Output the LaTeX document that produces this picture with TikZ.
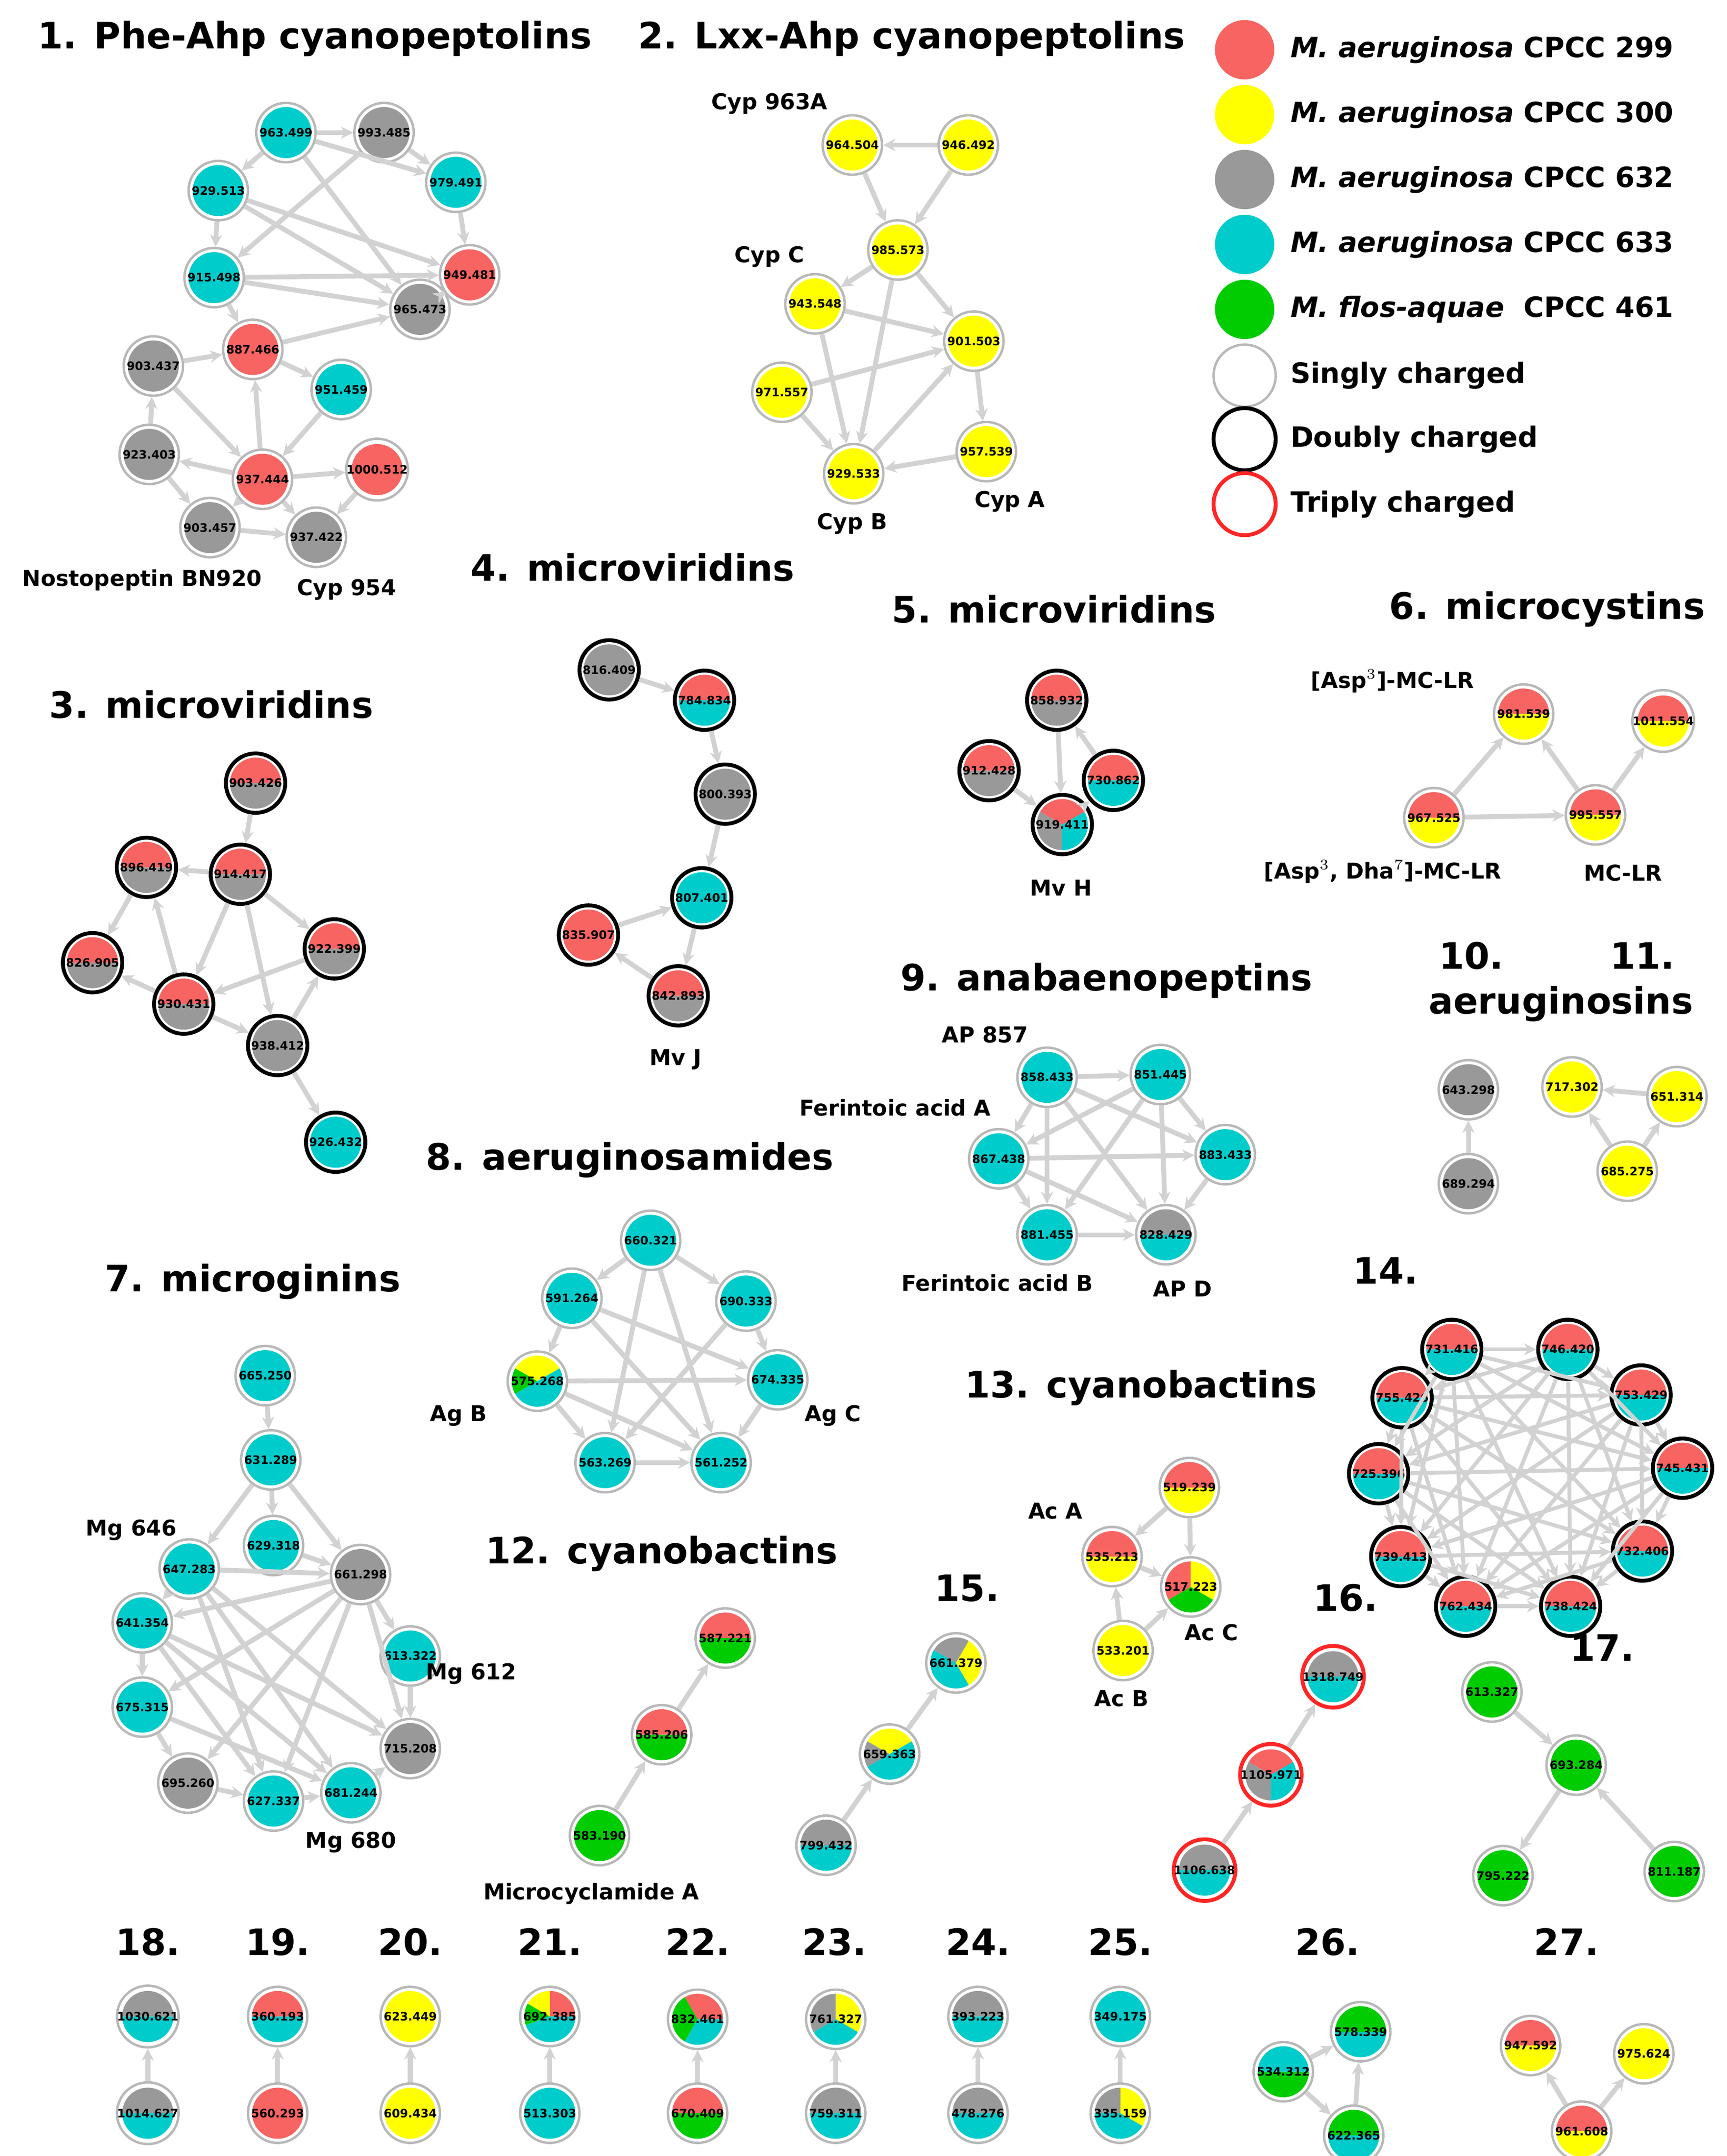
\documentclass[tikz,border=0pt]{standalone}
\usepackage{fontspec}
\setmainfont{DejaVu Sans}
\usetikzlibrary{arrows.meta}
\definecolor{pr}{HTML}{F86461}
\definecolor{py}{HTML}{FFFF00}
\definecolor{pg}{HTML}{999999}
\definecolor{pc}{HTML}{00CCCC}
\definecolor{pn}{HTML}{00CC00}
\newcommand{\nfont}{\bfseries\fontsize{4.8}{5}\selectfont}
% pie filled molecule node: [border] name, position, mass, segments
\newcommand{\mnode}[5][sg]{%
  \foreach \cc/\aa/\bb in {#5}{\fill[\cc] (#3) -- ++(\aa:0.37cm) arc[start angle=\aa,end angle=\bb,radius=0.37cm] -- cycle;}
  \node[mol,#1] (#2) at (#3) {#4};}
\begin{document}
\begin{tikzpicture}[x=0.02cm,y=-0.02cm,
  mol/.style={circle,minimum size=0.86cm,inner sep=0pt,font=\nfont},
  sg/.style={draw=pg!70,line width=1pt},
  db/.style={draw=black,line width=1.6pt},
  tr/.style={draw=red!85,line width=1.6pt},
  lnk/.style={draw=gray!35,line width=2pt,-{Stealth[length=5pt,width=5pt]}},
  ttl/.style={font=\bfseries\fontsize{15}{18}\selectfont},
  lbl/.style={font=\bfseries\fontsize{9}{11}\selectfont},
  leg/.style={anchor=west,font=\bfseries\fontsize{11.5}{14}\selectfont},
  ]
  \useasboundingbox (0,0) rectangle (1250,1561);
  %Titles
  \node[ttl] at (228,28) {1. Phe-Ahp cyanopeptolins};
  \node[ttl] at (660,28) {2. Lxx-Ahp cyanopeptolins};
  \node[ttl] at (458,411) {4. microviridins};
  \node[ttl] at (763,441) {5. microviridins};
  \node[ttl] at (1120,441) {6. microcystins};
  \node[ttl] at (153,510) {3. microviridins};
  \node[ttl] at (801,710) {9. anabaenopeptins};
  \node[ttl] at (1065,692) {10.};
  \node[ttl] at (1189,692) {11.};
  \node[ttl] at (1130,727) {aeruginosins};
  \node[ttl] at (456,840) {8. aeruginosamides};
  \node[ttl] at (183,928) {7. microginins};
  \node[ttl] at (1003,920) {14.};
  \node[ttl] at (826,1005) {13. cyanobactins};
  \node[ttl] at (479,1125) {12. cyanobactins};
  \node[ttl] at (700,1150) {15.};
  \node[ttl] at (974,1157) {16.};
  \node[ttl] at (1160,1193) {17.};
  \foreach \t/\x in {18/107,19/201,20/297,21/398,22/505,23/604,24/708,25/811,26/961,27/1134}
    \node[ttl] at (\x,1406) {\t.};
  %Legend
  \foreach \c/\y/\t in {pr/36/{\textit{M. aeruginosa} CPCC 299},py/83/{\textit{M. aeruginosa} CPCC 300},
    pg/130/{\textit{M. aeruginosa} CPCC 632},pc/177/{\textit{M. aeruginosa} CPCC 633},pn/224/{\textit{M. flos-aquae}\ \ CPCC 461}}{
    \fill[\c] (901,\y) circle[radius=0.43cm];
    \node[leg] at (928,\y) {\t};}
  \node[mol,sg,minimum size=0.9cm] (lsg) at (901,272) {};
  \node[mol,db,minimum size=0.9cm] (ldb) at (901,318) {};
  \node[mol,tr,minimum size=0.9cm] (ltr) at (901,365) {};
  \node[leg] at (928,272) {Singly charged};
  \node[leg] at (928,318) {Doubly charged};
  \node[leg] at (928,365) {Triply charged};
  %Cluster 1
  \mnode{a1}{207,96}{963.499}{pc/0/360}
  \mnode{a2}{278,96}{993.485}{pg/0/360}
  \mnode{a3}{330,132}{979.491}{pc/0/360}
  \mnode{a4}{340,199}{949.481}{pr/0/360}
  \mnode{a5}{304,224}{965.473}{pg/0/360}
  \mnode{a6}{158,138}{929.513}{pc/0/360}
  \mnode{a7}{155,201}{915.498}{pc/0/360}
  \mnode{a8}{183,253}{887.466}{pr/0/360}
  \mnode{a9}{247,282}{951.459}{pc/0/360}
  \mnode{a10}{111,265}{903.437}{pg/0/360}
  \mnode{a11}{190,347}{937.444}{pr/0/360}
  \mnode{a12}{273,340}{1000.512}{pr/0/360}
  \mnode{a13}{108,329}{923.403}{pg/0/360}
  \mnode{a14}{152,382}{903.457}{pg/0/360}
  \mnode{a15}{229,389}{937.422}{pg/0/360}
  \node[lbl] at (103,420) {Nostopeptin BN920};
  \node[lbl] at (251,427) {Cyp 954};
  \foreach \a/\b in {a1/a2,a1/a6,a1/a3,a2/a3,a3/a4,a4/a5,a6/a7,a7/a8,a7/a5,a1/a5,a6/a5,a7/a4,a6/a4,a2/a7,a8/a5,a8/a9,a10/a8,a11/a8,a9/a11,a11/a12,a11/a13,a11/a14,a11/a15,a13/a10,a13/a14,a14/a15,a12/a15,a10/a11}
    \draw[lnk] (\a) -- (\b);
  %Cluster 2
  \mnode{b1}{617,105}{964.504}{py/0/360}
  \mnode{b2}{701,105}{946.492}{py/0/360}
  \mnode{b3}{650,181}{985.573}{py/0/360}
  \mnode{b4}{590,220}{943.548}{py/0/360}
  \mnode{b5}{705,247}{901.503}{py/0/360}
  \mnode{b6}{566,284}{971.557}{py/0/360}
  \mnode{b7}{714,327}{957.539}{py/0/360}
  \mnode{b8}{618,343}{929.533}{py/0/360}
  \node[lbl] at (557,75) {Cyp 963A};
  \node[lbl] at (557,186) {Cyp C};
  \node[lbl] at (617,379) {Cyp B};
  \node[lbl] at (731,363) {Cyp A};
  \foreach \a/\b in {b2/b1,b1/b3,b2/b3,b3/b5,b3/b8,b4/b8,b4/b5,b6/b5,b6/b8,b5/b7,b7/b8,b8/b5,b3/b4}
    \draw[lnk] (\a) -- (\b);
  %Cluster 3
  \mnode[db]{c1}{185,567}{903.426}{pr/0/180,pg/180/360}
  \mnode[db]{c2}{106,628}{896.419}{pr/0/180,pg/180/360}
  \mnode[db]{c3}{174,633}{914.417}{pr/0/180,pg/180/360}
  \mnode[db]{c4}{242,687}{922.399}{pr/0/180,pg/180/360}
  \mnode[db]{c5}{67,697}{826.905}{pr/0/180,pg/180/360}
  \mnode[db]{c6}{133,727}{930.431}{pr/0/180,pg/180/360}
  \mnode[db]{c7}{201,757}{938.412}{pg/0/360}
  \mnode[db]{c8}{243,827}{926.432}{pc/0/360}
  \foreach \a/\b in {c1/c3,c3/c2,c2/c5,c6/c2,c3/c6,c3/c4,c3/c7,c6/c5,c6/c7,c4/c6,c7/c8,c7/c4}
    \draw[lnk] (\a) -- (\b);
  %Cluster 4
  \mnode[db]{d1}{441,485}{816.409}{pg/0/360}
  \mnode[db]{d2}{510,507}{784.834}{pr/0/180,pc/180/360}
  \mnode[db]{d3}{525,575}{800.393}{pg/0/360}
  \mnode[db]{d4}{508,650}{807.401}{pc/0/360}
  \mnode[db]{d5}{426,677}{835.907}{pr/0/360}
  \mnode[db]{d6}{491,721}{842.893}{pr/0/180,pg/180/360}
  \node[lbl] at (489,767) {Mv J};
  \foreach \a/\b in {d1/d2,d2/d3,d3/d4,d4/d6,d5/d4,d6/d5}
    \draw[lnk] (\a) -- (\b);
  %Cluster 5
  \mnode[db]{e1}{765,507}{858.932}{pr/0/180,pg/180/360}
  \mnode[db]{e2}{716,558}{912.428}{pr/0/180,pg/180/360}
  \mnode[db]{e3}{806,565}{730.862}{pr/0/180,pc/180/360}
  \mnode[db]{e4}{769,597}{919.411}{pr/30/150,pg/150/270,pc/270/390}
  \node[lbl] at (768,643) {Mv H};
  \foreach \a/\b in {e3/e1,e1/e4,e2/e4,e4/e3}
    \draw[lnk] (\a) -- (\b);
  %Cluster 6
  \mnode{f1}{1103,517}{981.539}{pr/0/180,py/180/360}
  \mnode{f2}{1204,522}{1011.554}{pr/0/180,py/180/360}
  \mnode{f3}{1038,592}{967.525}{pr/0/180,py/180/360}
  \mnode{f4}{1155,590}{995.557}{pr/0/180,py/180/360}
  \node[lbl] at (1008,493) {[Asp$^3$]-MC-LR};
  \node[lbl] at (1001,631) {[Asp$^3$, Dha$^7$]-MC-LR};
  \node[lbl] at (1175,632) {MC-LR};
  \foreach \a/\b in {f3/f1,f4/f1,f3/f4,f4/f2}
    \draw[lnk] (\a) -- (\b);
  %Cluster 9
  \mnode{g1}{758,780}{858.433}{pc/0/360}
  \mnode{g2}{840,778}{851.445}{pc/0/360}
  \mnode{g3}{723,839}{867.438}{pc/0/360}
  \mnode{g4}{887,836}{883.433}{pc/0/360}
  \mnode{g5}{758,894}{881.455}{pc/0/360}
  \mnode{g6}{844,894}{828.429}{pg/0/180,pc/180/360}
  \node[lbl] at (713,749) {AP 857};
  \node[lbl] at (648,802) {Ferintoic acid A};
  \node[lbl] at (722,929) {Ferintoic acid B};
  \node[lbl] at (856,933) {AP D};
  \foreach \a/\b in {g1/g2,g1/g3,g1/g4,g1/g5,g1/g6,g2/g4,g2/g3,g2/g5,g3/g5,g3/g4,g3/g6,g5/g6,g4/g6,g2/g6}
    \draw[lnk] (\a) -- (\b);
  %Clusters 10, 11
  \mnode{h1}{1063,789}{643.298}{pg/0/360}
  \mnode{h2}{1063,857}{689.294}{pg/0/360}
  \mnode{i1}{1138,787}{717.302}{py/0/360}
  \mnode{i2}{1214,794}{651.314}{py/0/360}
  \mnode{i3}{1178,848}{685.275}{py/0/360}
  \foreach \a/\b in {h2/h1,i2/i1,i3/i1,i3/i2}
    \draw[lnk] (\a) -- (\b);
  %Cluster 8
  \mnode{j1}{471,898}{660.321}{pc/0/360}
  \mnode{j2}{414,940}{591.264}{pc/0/360}
  \mnode{j3}{540,942}{690.333}{pc/0/360}
  \mnode{j4}{389,1000}{575.268}{py/30/150,pn/150/210,pc/210/390}
  \mnode{j5}{563,999}{674.335}{pc/0/360}
  \mnode{j6}{438,1059}{563.269}{pc/0/360}
  \mnode{j7}{522,1059}{561.252}{pc/0/360}
  \node[lbl] at (332,1025) {Ag B};
  \node[lbl] at (603,1025) {Ag C};
  \foreach \a/\b in {j1/j2,j1/j3,j2/j4,j3/j5,j5/j7,j6/j7,j4/j6,j1/j6,j1/j7,j2/j7,j4/j7,j3/j6,j4/j5,j2/j5}
    \draw[lnk] (\a) -- (\b);
  %Cluster 14
  \mnode[db]{k1}{1051,977}{731.416}{pr/0/180,pc/180/360}
  \mnode[db]{k2}{1135,977}{746.420}{pr/0/180,pc/180/360}
  \mnode[db]{k3}{1015,1012}{755.426}{pr/0/180,pc/180/360}
  \mnode[db]{k4}{1188,1010}{753.429}{pr/0/180,pc/180/360}
  \mnode[db]{k5}{998,1067}{725.396}{pr/0/180,pc/180/360}
  \mnode[db]{k6}{1218,1063}{745.431}{pr/0/180,pc/180/360}
  \mnode[db]{k7}{1014,1127}{739.413}{pr/0/180,pc/180/360}
  \mnode[db]{k8}{1189,1123}{732.406}{pr/0/180,pc/180/360}
  \mnode[db]{k9}{1061,1163}{762.434}{pr/0/180,pc/180/360}
  \mnode[db]{k10}{1137,1163}{738.424}{pr/0/180,pc/180/360}
  \foreach \i in {1,...,9}{
    \pgfmathtruncatemacro\s{\i+1}
    \foreach \j in {\s,...,10}
      \draw[lnk,line width=1.6pt] (k\i) -- (k\j);}
  %Cluster 7
  \mnode{l1}{192,996}{665.250}{pc/0/360}
  \mnode{l2}{196,1057}{631.289}{pc/0/360}
  \mnode{l3}{198,1119}{629.318}{pc/0/360}
  \mnode{l4}{137,1136}{647.283}{pc/0/360}
  \mnode{l5}{261,1140}{661.298}{pg/0/360}
  \mnode{l6}{103,1175}{641.354}{pc/0/360}
  \mnode{l7}{297,1199}{613.322}{pc/0/360}
  \mnode{l8}{103,1236}{675.315}{pc/0/360}
  \mnode{l9}{297,1266}{715.208}{pg/0/360}
  \mnode{l10}{136,1291}{695.260}{pg/0/360}
  \mnode{l11}{198,1304}{627.337}{pc/0/360}
  \mnode{l12}{254,1298}{681.244}{pc/0/360}
  \node[lbl] at (95,1108) {Mg 646};
  \node[lbl] at (341,1212) {Mg 612};
  \node[lbl] at (254,1334) {Mg 680};
  \foreach \a/\b in {l1/l2,l2/l3,l2/l4,l2/l5,l3/l5,l4/l5,l4/l6,l5/l7,l5/l6,l5/l8,l5/l10,l5/l11,l6/l8,l6/l12,l6/l9,l4/l12,l8/l10,l10/l11,l11/l12,l12/l9,l7/l9,l4/l11,l8/l12,l6/l11,l5/l9,l4/l9}
    \draw[lnk] (\a) -- (\b);
  %Cluster 13
  \mnode{m1}{861,1077}{519.239}{pr/0/180,py/180/360}
  \mnode{m2}{805,1127}{535.213}{pr/0/180,py/180/360}
  \mnode{m3}{862,1149}{517.223}{py/-30/90,pr/90/210,pn/210/330}
  \mnode{m4}{813,1195}{533.201}{py/0/360}
  \node[lbl] at (764,1094) {Ac A};
  \node[lbl] at (877,1182) {Ac C};
  \node[lbl] at (812,1230) {Ac B};
  \foreach \a/\b in {m1/m2,m1/m3,m2/m3,m4/m2,m4/m3}
    \draw[lnk] (\a) -- (\b);
  %Clusters 12, 15, 16, 17
  \mnode{o1}{525,1186}{587.221}{pr/0/180,pn/180/360}
  \mnode{o2}{479,1256}{585.206}{pr/0/180,pn/180/360}
  \mnode{o3}{434,1329}{583.190}{pn/0/360}
  \node[lbl] at (428,1371) {Microcyclamide A};
  \mnode{q1}{692,1204}{661.379}{py/-60/60,pg/60/150,pc/150/300}
  \mnode{q2}{644,1270}{659.363}{py/30/150,pg/150/210,pc/210/390}
  \mnode{q3}{598,1336}{799.432}{pg/0/180,pc/180/360}
  \mnode[tr]{r1}{965,1214}{1318.749}{pg/0/180,pc/180/360}
  \mnode[tr]{r2}{920,1285}{1105.971}{pr/30/150,pg/150/270,pc/270/390}
  \mnode[tr]{r3}{872,1354}{1106.638}{pg/0/180,pc/180/360}
  \mnode{s1}{1080,1225}{613.327}{pn/0/360}
  \mnode{s2}{1141,1278}{693.284}{pn/0/360}
  \mnode{s3}{1088,1358}{795.222}{pn/0/360}
  \mnode{s4}{1212,1355}{811.187}{pn/0/360}
  \foreach \a/\b in {o2/o1,o3/o2,q2/q1,q3/q2,r2/r1,r3/r2,s1/s2,s2/s3,s4/s2}
    \draw[lnk] (\a) -- (\b);
  %Bottom row
  \mnode{t1}{107,1460}{1030.621}{pg/0/180,pc/180/360}
  \mnode{t2}{107,1530}{1014.627}{pg/0/180,pc/180/360}
  \mnode{t3}{201,1460}{360.193}{pr/0/180,pc/180/360}
  \mnode{t4}{201,1530}{560.293}{pr/0/360}
  \mnode{t5}{297,1460}{623.449}{py/0/360}
  \mnode{t6}{297,1530}{609.434}{py/0/360}
  \mnode{t7}{398,1460}{692.385}{pr/0/90,py/90/150,pn/150/200,pc/200/360}
  \mnode{t8}{398,1530}{513.303}{pc/0/360}
  \mnode{t9}{505,1462}{832.461}{pr/0/120,pn/120/240,pc/240/360}
  \mnode{t10}{505,1530}{670.409}{pr/0/180,pn/180/360}
  \mnode{t11}{605,1462}{761.327}{py/-30/90,pg/90/210,pc/210/330}
  \mnode{t12}{605,1530}{759.311}{pg/0/180,pc/180/360}
  \mnode{t13}{708,1460}{393.223}{pg/0/180,pc/180/360}
  \mnode{t14}{708,1530}{478.276}{pg/0/180,pc/180/360}
  \mnode{t15}{811,1460}{349.175}{pc/0/360}
  \mnode{t16}{811,1530}{335.159}{py/-30/90,pg/90/180,pc/180/330}
  \foreach \a/\b in {t2/t1,t4/t3,t6/t5,t8/t7,t10/t9,t12/t11,t14/t13,t16/t15}
    \draw[lnk] (\a) -- (\b);
  \mnode{u1}{929,1500}{534.312}{pc/0/180,pn/180/360}
  \mnode{u2}{985,1471}{578.339}{pn/0/180,pc/180/360}
  \mnode{u3}{980,1546}{622.365}{pn/0/180,pc/180/360}
  \mnode{w1}{1108,1481}{947.592}{pr/0/180,py/180/360}
  \mnode{w2}{1190,1487}{975.624}{py/0/360}
  \mnode{w3}{1145,1543}{961.608}{pr/0/180,py/180/360}
  \foreach \a/\b in {u1/u2,u3/u2,u1/u3,w3/w1,w3/w2}
    \draw[lnk] (\a) -- (\b);
\end{tikzpicture}
\end{document}
